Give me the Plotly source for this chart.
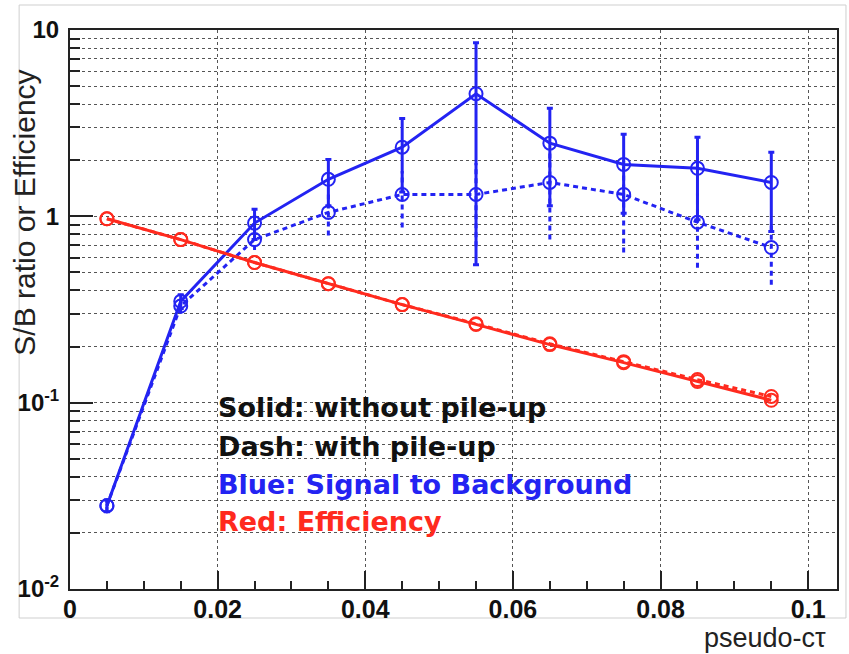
import plotly.graph_objects as go

# pseudo-c-tau bin centres
ctau = [0.005, 0.015, 0.025, 0.035, 0.045, 0.055, 0.065, 0.075, 0.085, 0.095]

# Signal to background ratio, without pile-up (solid) and with pile-up (dash)
sb_solid = [0.028, 0.35, 0.92, 1.58, 2.35, 4.55, 2.47, 1.90, 1.81, 1.52]
sb_solid_err = [0.002, 0.03, 0.17, 0.44, 1.00, 4.00, 1.33, 0.86, 0.85, 0.69]
sb_dash = [0.028, 0.33, 0.75, 1.05, 1.31, 1.31, 1.52, 1.31, 0.93, 0.68]
sb_dash_err = [0.002, 0.03, 0.09, 0.26, 0.44, 0.62, 0.77, 0.67, 0.40, 0.25]

# Efficiency, without pile-up (solid) and with pile-up (dash)
eff_solid = [0.97, 0.75, 0.565, 0.435, 0.336, 0.263, 0.205, 0.164, 0.130, 0.103]
eff_dash = [0.97, 0.75, 0.565, 0.435, 0.336, 0.265, 0.207, 0.166, 0.133, 0.108]

# axis tick labels
y_tickvals = [0.01, 0.1, 1, 10]
y_ticktext = ["10<sup>-2</sup>", "10<sup>-1</sup>", "1", "10"]

BLUE = "#2323f2"
RED = "#ff2a1e"
DASH = "5px,4px"

fig = go.Figure()


def dashed_errors(xs, ys, errs):
    ex, ey = [], []
    for x, y, e in zip(xs, ys, errs):
        ex += [x, x, None]
        ey += [max(y - e, 1e-3), y + e, None]
    return ex, ey


# dashed error bars for the pile-up S/B series
ex, ey = dashed_errors(ctau, sb_dash, sb_dash_err)
fig.add_trace(go.Scatter(x=ex, y=ey, mode="lines", showlegend=False,
                         line=dict(color=BLUE, width=3, dash=DASH),
                         hoverinfo="skip"))

fig.add_trace(go.Scatter(
    x=ctau, y=sb_dash, mode="lines+markers", name="S/B with pile-up",
    line=dict(color=BLUE, width=3, dash=DASH),
    marker=dict(symbol="circle-open", size=13, color=BLUE, line=dict(width=2)),
))

fig.add_trace(go.Scatter(
    x=ctau, y=sb_solid, mode="lines+markers", name="S/B without pile-up",
    line=dict(color=BLUE, width=3),
    marker=dict(symbol="circle-open", size=13, color=BLUE, line=dict(width=2)),
    error_y=dict(type="data", array=sb_solid_err, visible=True,
                 color=BLUE, thickness=3, width=3),
))

fig.add_trace(go.Scatter(
    x=ctau, y=eff_dash, mode="lines+markers", name="Efficiency with pile-up",
    line=dict(color=RED, width=3, dash=DASH),
    marker=dict(symbol="circle-open", size=13, color=RED, line=dict(width=2)),
))

fig.add_trace(go.Scatter(
    x=ctau, y=eff_solid, mode="lines+markers", name="Efficiency without pile-up",
    line=dict(color=RED, width=3),
    marker=dict(symbol="circle-open", size=13, color=RED, line=dict(width=2)),
))

GRID = "#555555"
AX = "#222222"

fig.update_xaxes(
    range=[0, 0.1039], dtick=0.02, tick0=0,
    showline=True, linecolor=AX, linewidth=2, mirror=True,
    ticks="inside", ticklen=18, tickwidth=2, tickcolor=AX,
    showgrid=True, gridcolor=GRID, gridwidth=1, griddash="dot",
    zeroline=False,
    tickfont=dict(family="Liberation Sans", size=25, color="#111", weight="bold"),
    ticklabelstandoff=-3,
    minor=dict(dtick=0.005, ticks="inside", ticklen=8, tickwidth=2,
               tickcolor=AX, showgrid=False),
)

fig.update_yaxes(
    type="log", range=[-2, 1],
    tickvals=y_tickvals, ticktext=y_ticktext,
    showline=True, linecolor=AX, linewidth=2, mirror=True,
    ticks="inside", ticklen=23, tickwidth=2, tickcolor=AX,
    showgrid=True, gridcolor=GRID, gridwidth=1, griddash="dot",
    zeroline=False,
    tickfont=dict(family="Liberation Sans", size=24, color="#111", weight="bold"),
    ticklabelstandoff=4,
    minor=dict(dtick="D1", ticks="inside", ticklen=10, tickwidth=2,
               tickcolor=AX, showgrid=True, gridcolor=GRID, gridwidth=1,
               griddash="dot"),
)

note_font = dict(family="DejaVu Sans", size=27, weight="bold")
notes = [
    ("Solid: without pile-up", "#111111", 0.3238),
    ("Dash: with pile-up", "#111111", 0.2558),
    ("Blue: Signal to Background", BLUE, 0.1878),
    ("Red: Efficiency", RED, 0.1216),
]
annotations = []
for text, color, ypos in notes:
    annotations.append(dict(
        text=text, x=0.02, xref="x", y=ypos, yref="paper",
        xanchor="left", yanchor="middle", showarrow=False,
        font=dict(color=color, **note_font), xshift=-2,
    ))

annotations.append(dict(
    text="S/B ratio or Efficiency", textangle=-90,
    x=-0.0598, xref="paper", y=0.6735, yref="paper",
    xanchor="center", yanchor="middle", showarrow=False,
    font=dict(family="Liberation Sans", size=30, color="#222"),
))
annotations.append(dict(
    text="pseudo-c\u03c4",
    x=0.9065, xref="paper", y=-0.088, yref="paper",
    xanchor="center", yanchor="middle", showarrow=False,
    font=dict(family="Liberation Sans", size=27, color="#222"),
))

fig.update_layout(
    width=849, height=654,
    margin=dict(l=70, r=10, t=30, b=65),
    paper_bgcolor="white", plot_bgcolor="white",
    showlegend=False,
    annotations=annotations,
    shapes=[dict(type="rect", xref="paper", yref="paper",
                 x0=-51 / 769, x1=778 / 769, y0=-29 / 559, y1=584 / 559,
                 line=dict(color="#cfcfcf", width=1), layer="below")],
)

fig.write_html("out.html")
